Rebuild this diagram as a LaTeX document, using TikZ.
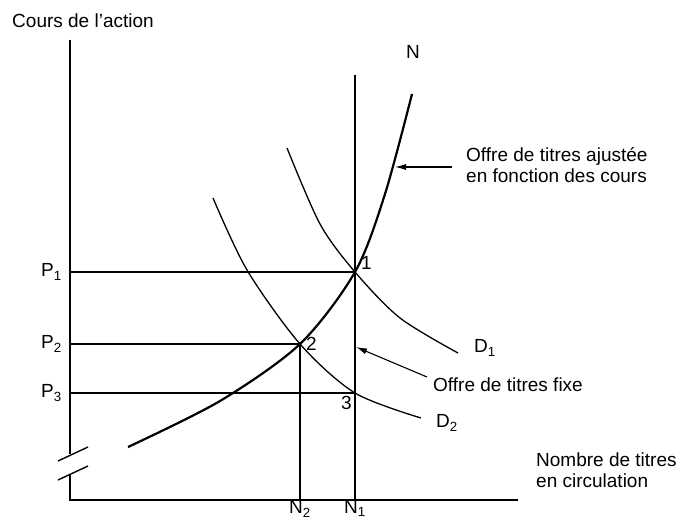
\documentclass[tikz,border=0pt]{standalone}
\usepackage{fontspec}
\setmainfont{Liberation Sans}
\usetikzlibrary{arrows.meta,positioning}

\begin{document}
\begin{tikzpicture}[
  x=1pt, y=-1pt,
  font=\fontsize{19}{21}\selectfont,
  >={Latex[length=11pt,width=6pt]},
  axis/.style={line width=1.4pt},
  guide/.style={line width=1.1pt},
  demand/.style={line width=1.3pt},
  supply/.style={line width=2.2pt},
  pointer/.style={->, line width=1.1pt},
  lbl/.style={inner sep=1pt}
]
  \useasboundingbox (0,0) rectangle (687,521);

  \coordinate (ytop) at (70,40);
  \coordinate (ybrk) at (70,454);
  \coordinate (ylow) at (70,474);
  \coordinate (orig) at (70,500);
  \coordinate (xend) at (518,500);
  \coordinate (e1) at (355,272);
  \coordinate (e2) at (300,344);
  \coordinate (e3) at (355,393);
  \coordinate (n1top) at (355,75);
  \coordinate (n1) at (355,500);
  \coordinate (n2) at (300,500);
  \coordinate (p1) at (70,272);
  \coordinate (p2) at (70,344);
  \coordinate (p3) at (70,393);
  \coordinate (adjhit) at (395,167);
  \coordinate (fixhit) at (356,347);

  \draw[axis] (ytop) -- (ybrk);
  \draw[axis] (ylow) -- (orig) -- (xend);
  \draw[axis] (58,461) -- (88,447);
  \draw[axis] (58,480) -- (88,466);

  \draw[guide] (p1) -- (e1);
  \draw[guide] (p2) -- (e2);
  \draw[guide] (p3) -- (e3);
  \draw[guide] (n1top) -- (n1);
  \draw[guide] (e2) -- (n2);

  \draw[supply] plot[smooth] coordinates {(128,447) (220,401) (300,344) (355,272) (385,194) (412,94)};
  \draw[demand] plot[smooth] coordinates {(287,148) (320,224) (355,272) (400,318) (458,353)};
  \draw[demand] plot[smooth] coordinates {(213,198) (247,270) (300,344) (355,393) (421,418)};

  \node[lbl] (yname) at (83,21) {Cours de l'action};
  \node[lbl] (nname) at (413,52) {N};
  \node[lbl, left=7pt of p1] (lp1) {P\textsubscript{1}};
  \node[lbl, left=7pt of p2] (lp2) {P\textsubscript{2}};
  \node[lbl, left=7pt of p3] (lp3) {P\textsubscript{3}};
  \node[inner sep=0.5pt, below=0pt of n1] (ln1) {N\textsubscript{1}};
  \node[inner sep=0.5pt, below=0pt of n2] (ln2) {N\textsubscript{2}};
  \node[lbl, above right=1pt and 5pt of e1] (l1) {1};
  \node[lbl, right=5pt of e2] (l2) {2};
  \node[lbl, below left=2pt and 2pt of e3] (l3) {3};
  \node[lbl, anchor=west] (ld1) at (473,348) {D\textsubscript{1}};
  \node[lbl, anchor=west] (ld2) at (435,423) {D\textsubscript{2}};

  \node[lbl, anchor=west, align=left] (adj) at (465,165) {Offre de titres ajustée\\en fonction des cours};
  \node[lbl, anchor=west] (fix) at (432,385) {Offre de titres fixe};
  \node[lbl, anchor=west, align=left] (xname) at (535,470) {Nombre de titres\\en circulation};

  \draw[pointer] ([xshift=-13pt,yshift=-2pt]adj.west) -- (adjhit);
  \draw[pointer] ([xshift=-5pt,yshift=8pt]fix.west) -- (fixhit);
\end{tikzpicture}
\end{document}
